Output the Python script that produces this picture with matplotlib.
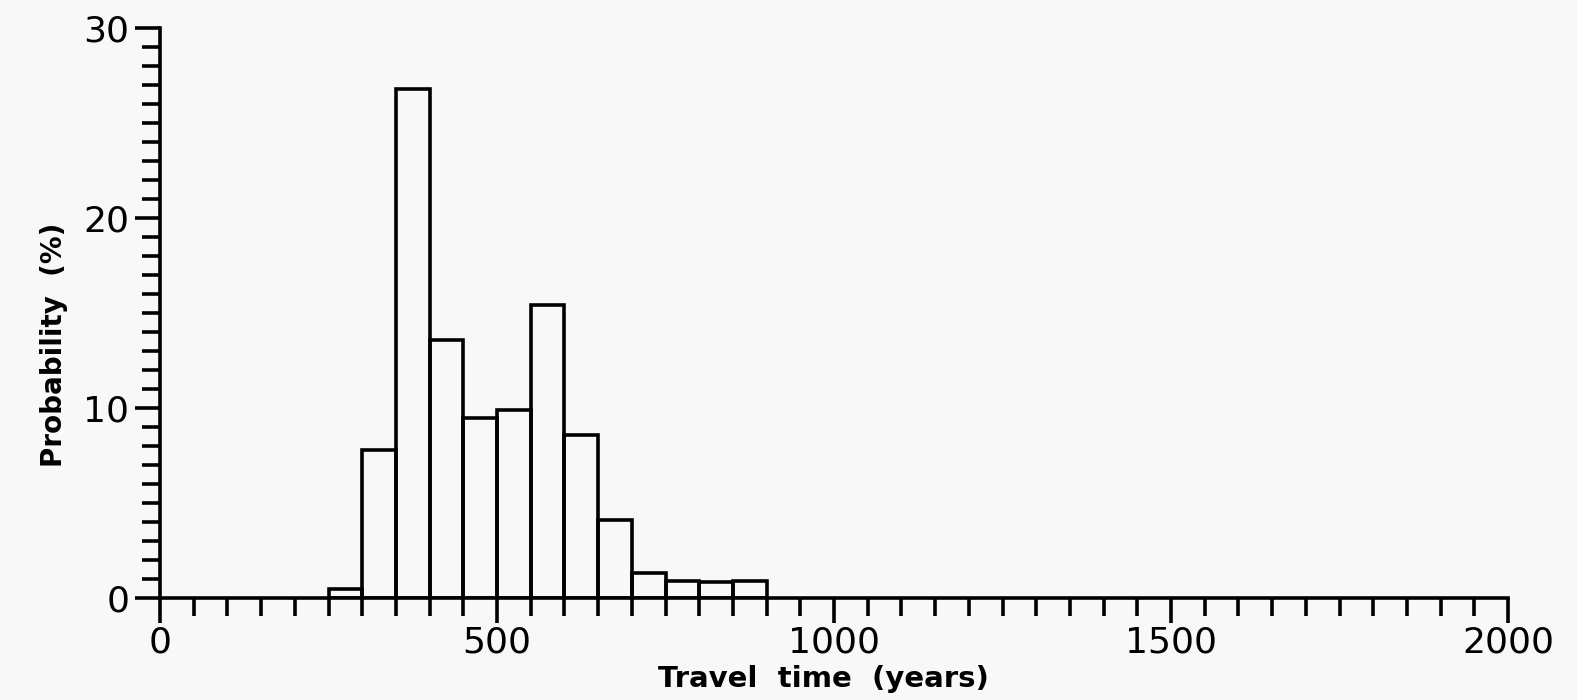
import numpy as np
import matplotlib
matplotlib.use('Agg')
import matplotlib.pyplot as plt
from matplotlib.ticker import MultipleLocator

####################################################################################

FIGURE_XSIZE = 15.77
FIGURE_YSIZE = 7.00
DPI = 100

BACKGROUND_RGB = '#F8F8F8'
LINE_RGB = '#000000'
LINE_WIDTH = 2.6

# histogram of travel times, 50-year bins
bin_starts = [250, 300, 350, 400, 450, 500, 550, 600, 650, 700, 750, 800, 850]
probability = [0.5, 7.8, 26.8, 13.6, 9.5, 9.9, 15.4, 8.6, 4.1, 1.3, 0.9, 0.85, 0.9]
bin_width = 50

x_ticks = [0, 500, 1000, 1500, 2000]
y_ticks = [0, 10, 20, 30]

####################################################################################

figure = plt.figure(figsize=(FIGURE_XSIZE, FIGURE_YSIZE), dpi=DPI, facecolor=BACKGROUND_RGB)
W, H = FIGURE_XSIZE * DPI, FIGURE_YSIZE * DPI
axes = figure.add_axes([160 / W, (H - 598) / H, (1508 - 160) / W, (598 - 28) / H])
axes.set_facecolor(BACKGROUND_RGB)

axes.bar(bin_starts, probability, width=bin_width, align='edge',
         fill=False, edgecolor=LINE_RGB, linewidth=LINE_WIDTH, zorder=3)

axes.set_xlim(0, 2000)
axes.set_ylim(0, 30)

for side in ['top', 'right']:
    axes.spines[side].set_visible(False)
for side in ['left', 'bottom']:
    axes.spines[side].set_linewidth(LINE_WIDTH)
    axes.spines[side].set_color(LINE_RGB)
    axes.spines[side].set_capstyle('projecting')

axes.set_xticks(x_ticks)
axes.set_yticks(y_ticks)
axes.xaxis.set_minor_locator(MultipleLocator(50))
axes.yaxis.set_minor_locator(MultipleLocator(1))

axes.tick_params(axis='both', which='major', direction='out', width=LINE_WIDTH,
                 length=18, labelsize=26, colors=LINE_RGB, pad=4)
axes.tick_params(axis='x', which='major', pad=2)
axes.tick_params(axis='both', which='minor', direction='out', width=LINE_WIDTH,
                 length=13, colors=LINE_RGB)

axes.set_xlabel('Travel  time  (years)', fontsize=21, fontweight='bold')
axes.set_ylabel('Probability  (%)', fontsize=20, fontweight='bold')
axes.xaxis.set_label_coords(0.492, -0.118)
axes.yaxis.set_label_coords(-0.068, 0.444)

plt.savefig('out.png', dpi=DPI, facecolor=BACKGROUND_RGB)
